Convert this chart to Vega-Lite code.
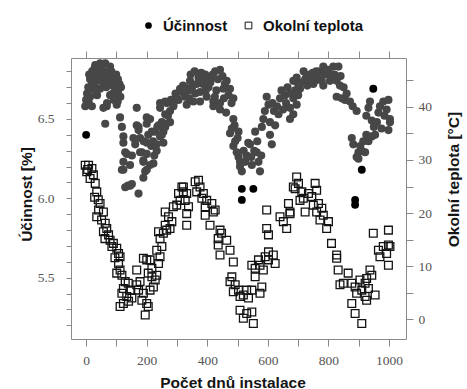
{
  "$schema": "https://vega.github.io/schema/vega-lite/v6.json",
  "width": 335,
  "height": 281,
  "autosize": {"type": "none"},
  "padding": {"left": 71, "top": 58, "right": 61, "bottom": 50},
  "background": "white",
  "config": {
    "view": {"stroke": "#8a8a8a", "strokeWidth": 1},
    "axis": {
      "grid": false,
      "domain": false,
      "tickColor": "#8a8a8a",
      "tickWidth": 1,
      "labelFont": "Liberation Serif",
      "labelFontSize": 13.5,
      "labelColor": "#555555",
      "titleFont": "Liberation Sans",
      "titleFontWeight": "bold",
      "titleFontSize": 15.5,
      "titleColor": "#151515"
    },
    "legend": {
      "labelFont": "Liberation Sans",
      "labelFontWeight": "bold",
      "labelFontSize": 15,
      "labelColor": "#111111",
      "labelOffset": 7,
      "symbolSize": 45,
      "symbolStrokeWidth": 1,
      "direction": "horizontal"
    }
  },
  "datasets": {
    "ucinnost": [
      {"den":30,"ucinnost":6.84},{"den":46,"ucinnost":6.85},{"den":63,"ucinnost":6.85},{"den":79,"ucinnost":6.83},{"den":20,"ucinnost":6.80},{"den":40,"ucinnost":6.81},{"den":59,"ucinnost":6.80},{"den":83,"ucinnost":6.80},{"den":99,"ucinnost":6.78},{"den":13,"ucinnost":6.75},{"den":33,"ucinnost":6.76},{"den":53,"ucinnost":6.75},{"den":73,"ucinnost":6.75},{"den":96,"ucinnost":6.73},{"den":7,"ucinnost":6.70},{"den":26,"ucinnost":6.71},{"den":46,"ucinnost":6.69},{"den":66,"ucinnost":6.70},{"den":86,"ucinnost":6.71},{"den":106,"ucinnost":6.68},{"den":13,"ucinnost":6.64},{"den":36,"ucinnost":6.65},{"den":79,"ucinnost":6.65},{"den":99,"ucinnost":6.63},{"den":69,"ucinnost":6.60},{"den":50,"ucinnost":6.82},{"den":70,"ucinnost":6.78},{"den":90,"ucinnost":6.76},{"den":25,"ucinnost":6.77},{"den":60,"ucinnost":6.72},{"den":3,"ucinnost":6.66},{"den":110,"ucinnost":6.72},{"den":16,"ucinnost":6.69},{"den":88,"ucinnost":6.66},{"den":104,"ucinnost":6.61},
      {"den":10,"ucinnost":6.78},{"den":28,"ucinnost":6.82},{"den":38,"ucinnost":6.79},{"den":45,"ucinnost":6.74},{"den":55,"ucinnost":6.78},{"den":65,"ucinnost":6.76},{"den":75,"ucinnost":6.72},{"den":85,"ucinnost":6.74},{"den":95,"ucinnost":6.70},{"den":105,"ucinnost":6.75},{"den":115,"ucinnost":6.70},{"den":20,"ucinnost":6.73},{"den":30,"ucinnost":6.68},{"den":8,"ucinnost":6.61},{"den":113,"ucinnost":6.64},{"den":92,"ucinnost":6.62},{"den":0,"ucinnost":6.62},
      {"den":-3,"ucinnost":6.58},{"den":19,"ucinnost":6.58},{"den":57,"ucinnost":6.57},{"den":63,"ucinnost":6.47},{"den":167,"ucinnost":6.57},{"den":68,"ucinnost":6.58},
      {"den":0,"ucinnost":6.40,"odlehly":true},
      {"den":101,"ucinnost":6.59},{"den":112,"ucinnost":6.51},{"den":118,"ucinnost":6.45},{"den":123,"ucinnost":6.39},{"den":129,"ucinnost":6.29},{"den":123,"ucinnost":6.23},{"den":118,"ucinnost":6.18},{"den":129,"ucinnost":6.07},{"den":145,"ucinnost":6.08},{"den":173,"ucinnost":6.03},{"den":123,"ucinnost":6.35},{"den":134,"ucinnost":6.28},{"den":123,"ucinnost":6.18},{"den":156,"ucinnost":6.38},{"den":167,"ucinnost":6.46},{"den":178,"ucinnost":6.29},{"den":189,"ucinnost":6.24},{"den":138,"ucinnost":6.08},{"den":151,"ucinnost":6.09},
      {"den":173,"ucinnost":6.45},{"den":178,"ucinnost":6.38},{"den":162,"ucinnost":6.34},{"den":184,"ucinnost":6.29},{"den":151,"ucinnost":6.27},{"den":145,"ucinnost":6.21},{"den":189,"ucinnost":6.23},{"den":195,"ucinnost":6.17},{"den":189,"ucinnost":6.13},{"den":211,"ucinnost":6.21},{"den":211,"ucinnost":6.50},{"den":200,"ucinnost":6.51},{"den":200,"ucinnost":6.47},{"den":217,"ucinnost":6.42},{"den":200,"ucinnost":6.35},{"den":200,"ucinnost":6.28},{"den":222,"ucinnost":6.22},{"den":200,"ucinnost":6.18},{"den":173,"ucinnost":6.43},
      {"den":205,"ucinnost":6.40},{"den":215,"ucinnost":6.33},{"den":225,"ucinnost":6.27},{"den":235,"ucinnost":6.45},{"den":250,"ucinnost":6.40},{"den":270,"ucinnost":6.52},{"den":280,"ucinnost":6.62},{"den":295,"ucinnost":6.66},{"den":305,"ucinnost":6.62},{"den":320,"ucinnost":6.71},{"den":190,"ucinnost":6.36},
      {"den":221,"ucinnost":6.36},{"den":228,"ucinnost":6.42},{"den":239,"ucinnost":6.46},{"den":250,"ucinnost":6.48},{"den":261,"ucinnost":6.53},{"den":266,"ucinnost":6.60},{"den":277,"ucinnost":6.55},{"den":288,"ucinnost":6.59},{"den":299,"ucinnost":6.63},{"den":316,"ucinnost":6.67},{"den":244,"ucinnost":6.39},{"den":255,"ucinnost":6.42},{"den":233,"ucinnost":6.34},{"den":277,"ucinnost":6.48},{"den":261,"ucinnost":6.45},{"den":244,"ucinnost":6.57},{"den":261,"ucinnost":6.61},{"den":310,"ucinnost":6.69},{"den":327,"ucinnost":6.70},{"den":244,"ucinnost":6.60},{"den":264,"ucinnost":6.47},{"den":255,"ucinnost":6.35},{"den":233,"ucinnost":6.30},{"den":288,"ucinnost":6.58},
      {"den":327,"ucinnost":6.64},{"den":343,"ucinnost":6.74},{"den":354,"ucinnost":6.61},{"den":371,"ucinnost":6.76},{"den":376,"ucinnost":6.67},{"den":393,"ucinnost":6.78},{"den":404,"ucinnost":6.70},{"den":415,"ucinnost":6.76},{"den":426,"ucinnost":6.80},{"den":442,"ucinnost":6.81},{"den":420,"ucinnost":6.61},{"den":442,"ucinnost":6.60},{"den":453,"ucinnost":6.69},{"den":464,"ucinnost":6.74},{"den":470,"ucinnost":6.65},{"den":486,"ucinnost":6.63},{"den":332,"ucinnost":6.59},{"den":360,"ucinnost":6.66},{"den":376,"ucinnost":6.61},{"den":420,"ucinnost":6.58},{"den":442,"ucinnost":6.56},{"den":462,"ucinnost":6.54},{"den":350,"ucinnost":6.70},{"den":385,"ucinnost":6.72},{"den":410,"ucinnost":6.73},{"den":435,"ucinnost":6.75},{"den":398,"ucinnost":6.64},{"den":365,"ucinnost":6.72},{"den":338,"ucinnost":6.68},{"den":430,"ucinnost":6.68},
      {"den":345,"ucinnost":6.78},{"den":358,"ucinnost":6.80},{"den":380,"ucinnost":6.79},{"den":392,"ucinnost":6.75},{"den":403,"ucinnost":6.76},{"den":418,"ucinnost":6.78},{"den":450,"ucinnost":6.77},{"den":458,"ucinnost":6.72},{"den":475,"ucinnost":6.69},{"den":480,"ucinnost":6.60},{"den":340,"ucinnost":6.63},{"den":395,"ucinnost":6.68},{"den":425,"ucinnost":6.64},{"den":455,"ucinnost":6.63},
      {"den":475,"ucinnost":6.41},{"den":486,"ucinnost":6.33},{"den":503,"ucinnost":6.26},{"den":508,"ucinnost":6.20},{"den":486,"ucinnost":6.50},{"den":481,"ucinnost":6.44},{"den":503,"ucinnost":6.42},{"den":492,"ucinnost":6.36},{"den":497,"ucinnost":6.29},{"den":508,"ucinnost":6.23},{"den":514,"ucinnost":6.17},{"den":530,"ucinnost":6.27},{"den":541,"ucinnost":6.34},{"den":547,"ucinnost":6.21},{"den":563,"ucinnost":6.29},{"den":574,"ucinnost":6.17},{"den":558,"ucinnost":6.42},{"den":569,"ucinnost":6.23},{"den":525,"ucinnost":6.23},
      {"den":490,"ucinnost":6.46},{"den":500,"ucinnost":6.38},{"den":520,"ucinnost":6.30},{"den":535,"ucinnost":6.35},{"den":545,"ucinnost":6.26},{"den":555,"ucinnost":6.30},{"den":565,"ucinnost":6.36},{"den":578,"ucinnost":6.27},
      {"den":514,"ucinnost":6.06,"odlehly":true},{"den":552,"ucinnost":6.06,"odlehly":true},{"den":514,"ucinnost":5.99,"odlehly":true},
      {"den":596,"ucinnost":6.64},{"den":602,"ucinnost":6.59},{"den":585,"ucinnost":6.50},{"den":580,"ucinnost":6.45},{"den":607,"ucinnost":6.48},{"den":624,"ucinnost":6.46},{"den":607,"ucinnost":6.40},{"den":613,"ucinnost":6.34},{"den":635,"ucinnost":6.53},{"den":640,"ucinnost":6.63},{"den":657,"ucinnost":6.65},{"den":673,"ucinnost":6.57},{"den":684,"ucinnost":6.74},{"den":684,"ucinnost":6.63},{"den":695,"ucinnost":6.59},{"den":684,"ucinnost":6.53},{"den":673,"ucinnost":6.50},{"den":660,"ucinnost":6.60},{"den":620,"ucinnost":6.55},
      {"den":590,"ucinnost":6.55},{"den":615,"ucinnost":6.60},{"den":630,"ucinnost":6.58},{"den":645,"ucinnost":6.68},{"den":650,"ucinnost":6.56},{"den":665,"ucinnost":6.70},{"den":675,"ucinnost":6.66},{"den":690,"ucinnost":6.68},
      {"den":695,"ucinnost":6.76},{"den":706,"ucinnost":6.69},{"den":723,"ucinnost":6.75},{"den":739,"ucinnost":6.78},{"den":756,"ucinnost":6.74},{"den":772,"ucinnost":6.80},{"den":783,"ucinnost":6.83},{"den":800,"ucinnost":6.81},{"den":816,"ucinnost":6.83},{"den":833,"ucinnost":6.83},{"den":783,"ucinnost":6.71},{"den":805,"ucinnost":6.74},{"den":827,"ucinnost":6.74},{"den":838,"ucinnost":6.71},{"den":712,"ucinnost":6.73},{"den":730,"ucinnost":6.71},{"den":745,"ucinnost":6.76},{"den":765,"ucinnost":6.77},{"den":790,"ucinnost":6.78},{"den":810,"ucinnost":6.77},{"den":700,"ucinnost":6.72},{"den":750,"ucinnost":6.72},{"den":760,"ucinnost":6.80},
      {"den":700,"ucinnost":6.65},{"den":718,"ucinnost":6.80},{"den":728,"ucinnost":6.77},{"den":735,"ucinnost":6.74},{"den":748,"ucinnost":6.79},{"den":770,"ucinnost":6.75},{"den":778,"ucinnost":6.74},{"den":795,"ucinnost":6.81},{"den":820,"ucinnost":6.78},{"den":840,"ucinnost":6.77},{"den":850,"ucinnost":6.70},{"den":860,"ucinnost":6.66},
      {"den":827,"ucinnost":6.64},{"den":844,"ucinnost":6.63},{"den":855,"ucinnost":6.62},{"den":871,"ucinnost":6.61},{"den":893,"ucinnost":6.55},{"den":932,"ucinnost":6.57},{"den":937,"ucinnost":6.61},{"den":943,"ucinnost":6.49},{"den":965,"ucinnost":6.54},{"den":970,"ucinnost":6.58},{"den":981,"ucinnost":6.61},{"den":998,"ucinnost":6.62},{"den":1003,"ucinnost":6.50},{"den":998,"ucinnost":6.43},{"den":992,"ucinnost":6.56},{"den":1003,"ucinnost":6.48},
      {"den":880,"ucinnost":6.58},{"den":925,"ucinnost":6.52},{"den":950,"ucinnost":6.45},{"den":960,"ucinnost":6.48},{"den":985,"ucinnost":6.52},{"den":975,"ucinnost":6.44},{"den":905,"ucinnost":6.33},{"den":925,"ucinnost":6.40},
      {"den":877,"ucinnost":6.38},{"den":882,"ucinnost":6.34},{"den":899,"ucinnost":6.29},{"den":893,"ucinnost":6.26},{"den":921,"ucinnost":6.29},{"den":932,"ucinnost":6.36},{"den":943,"ucinnost":6.39},{"den":954,"ucinnost":6.40},{"den":899,"ucinnost":6.25},{"den":915,"ucinnost":6.36},{"den":910,"ucinnost":6.30},
      {"den":948,"ucinnost":6.69,"odlehly":true},{"den":910,"ucinnost":6.18,"odlehly":true},{"den":888,"ucinnost":5.99,"odlehly":true},{"den":888,"ucinnost":5.96,"odlehly":true}
    ],
    "teplota": [
      {"den":-3,"teplota":29.0},{"den":8,"teplota":29.0},{"den":19,"teplota":28.4},{"den":2,"teplota":27.8},{"den":24,"teplota":27.2},{"den":13,"teplota":26.5},{"den":30,"teplota":25.6},{"den":35,"teplota":24.0},{"den":46,"teplota":21.8},{"den":41,"teplota":20.6},{"den":57,"teplota":20.2},{"den":35,"teplota":19.3},{"den":51,"teplota":18.7},{"den":63,"teplota":18.1},{"den":68,"teplota":17.1},{"den":57,"teplota":16.5},{"den":74,"teplota":15.9},{"den":79,"teplota":14.9},{"den":90,"teplota":14.3},{"den":85,"teplota":13.7},{"den":101,"teplota":13.4},{"den":107,"teplota":12.4},{"den":112,"teplota":11.8},{"den":107,"teplota":10.5},{"den":112,"teplota":9.3},{"den":101,"teplota":8.7},{"den":118,"teplota":8.3},{"den":129,"teplota":7.1},{"den":139,"teplota":6.8},{"den":123,"teplota":5.8},{"den":145,"teplota":5.5},{"den":118,"teplota":4.9},{"den":134,"teplota":4.3},{"den":151,"teplota":4.0},{"den":123,"teplota":3.0},{"den":112,"teplota":2.4},
      {"den":5,"teplota":28.2},{"den":28,"teplota":23.0},{"den":40,"teplota":22.5},{"den":62,"teplota":15.2},{"den":95,"teplota":11.6},{"den":140,"teplota":3.4},
      {"den":167,"teplota":6.5},{"den":173,"teplota":5.5},{"den":167,"teplota":9.3},{"den":178,"teplota":7.1},{"den":189,"teplota":4.9},{"den":184,"teplota":3.6},{"den":200,"teplota":3.0},{"den":195,"teplota":0.8},{"den":205,"teplota":2.4},{"den":211,"teplota":5.5},{"den":222,"teplota":6.1},{"den":228,"teplota":7.4},{"den":217,"teplota":8.0},{"den":233,"teplota":8.3},{"den":205,"teplota":8.7},{"den":217,"teplota":9.6},{"den":200,"teplota":11.2},{"den":189,"teplota":11.5},{"den":211,"teplota":11.2},{"den":239,"teplota":10.5},{"den":244,"teplota":11.8},{"den":233,"teplota":13.0},{"den":250,"teplota":13.7},{"den":244,"teplota":15.2},{"den":255,"teplota":16.2},{"den":239,"teplota":16.5},{"den":266,"teplota":16.8},{"den":261,"teplota":17.7},{"den":277,"teplota":17.1},{"den":283,"teplota":18.4},{"den":261,"teplota":20.2},{"den":272,"teplota":19.3},{"den":288,"teplota":21.2},{"den":299,"teplota":21.5},{"den":310,"teplota":22.4},{"den":316,"teplota":24.9},{"den":321,"teplota":24.0},{"den":305,"teplota":23.7},
      {"den":321,"teplota":24.9},{"den":332,"teplota":23.7},{"den":327,"teplota":22.4},{"den":338,"teplota":21.2},{"den":332,"teplota":19.9},{"den":332,"teplota":17.7},{"den":360,"teplota":25.9},{"den":371,"teplota":26.2},{"den":376,"teplota":24.9},{"den":365,"teplota":24.0},{"den":387,"teplota":23.7},{"den":382,"teplota":22.8},{"den":398,"teplota":22.4},{"den":393,"teplota":21.2},{"den":415,"teplota":21.8},{"den":420,"teplota":20.2},{"den":426,"teplota":20.6},{"den":393,"teplota":19.6},{"den":409,"teplota":17.7},{"den":442,"teplota":16.8},{"den":447,"teplota":16.2},{"den":436,"teplota":15.2},{"den":464,"teplota":14.9},{"den":436,"teplota":14.0},{"den":475,"teplota":13.0},{"den":442,"teplota":12.1},{"den":486,"teplota":10.8},{"den":481,"teplota":8.0},{"den":475,"teplota":7.1},{"den":492,"teplota":6.5},{"den":486,"teplota":5.2},{"den":503,"teplota":5.5},{"den":508,"teplota":4.3},{"den":519,"teplota":4.6},{"den":530,"teplota":5.5},{"den":536,"teplota":4.0},{"den":547,"teplota":5.5},{"den":508,"teplota":1.7},{"den":530,"teplota":1.1},{"den":519,"teplota":0.2},{"den":547,"teplota":1.4},{"den":552,"teplota":-0.8},{"den":574,"teplota":4.9},{"den":580,"teplota":6.1},{"den":558,"teplota":8.0},{"den":558,"teplota":9.6},{"den":547,"teplota":10.2},{"den":574,"teplota":10.2},{"den":569,"teplota":11.2},{"den":585,"teplota":9.3},{"den":602,"teplota":11.2},{"den":602,"teplota":12.7},{"den":618,"teplota":12.1},{"den":624,"teplota":10.5},{"den":591,"teplota":11.8},{"den":596,"teplota":20.6},{"den":596,"teplota":17.1},{"den":602,"teplota":15.9},{"den":640,"teplota":19.3},{"den":651,"teplota":18.4},{"den":662,"teplota":17.1},{"den":668,"teplota":21.8},{"den":673,"teplota":19.9},{"den":684,"teplota":24.9},
      {"den":673,"teplota":20.2},{"den":695,"teplota":26.8},{"den":701,"teplota":25.6},{"den":690,"teplota":24.6},{"den":712,"teplota":24.0},{"den":717,"teplota":22.8},{"den":706,"teplota":22.4},{"den":723,"teplota":20.2},{"den":734,"teplota":23.7},{"den":745,"teplota":23.1},{"den":756,"teplota":25.6},{"den":761,"teplota":24.3},{"den":750,"teplota":21.5},{"den":767,"teplota":21.8},{"den":761,"teplota":20.2},{"den":778,"teplota":20.9},{"den":783,"teplota":19.6},{"den":772,"teplota":18.7},{"den":800,"teplota":18.4},{"den":794,"teplota":17.1},{"den":810,"teplota":14.3},{"den":827,"teplota":12.1},{"den":827,"teplota":11.5},{"den":832,"teplota":9.3},{"den":865,"teplota":8.7},{"den":849,"teplota":6.8},{"den":838,"teplota":6.5},{"den":877,"teplota":6.8},{"den":904,"teplota":7.4},{"den":888,"teplota":6.1},{"den":921,"teplota":6.8},{"den":937,"teplota":9.3},{"den":943,"teplota":8.3},{"den":926,"teplota":7.7},{"den":910,"teplota":5.5},{"den":932,"teplota":5.8},{"den":954,"teplota":4.6},{"den":921,"teplota":4.3},{"den":877,"teplota":3.0},{"den":888,"teplota":1.1},{"den":910,"teplota":-0.8},{"den":893,"teplota":4.9},{"den":926,"teplota":3.6},{"den":948,"teplota":16.2},{"den":998,"teplota":16.8},{"den":981,"teplota":13.7},{"den":998,"teplota":14.0},{"den":992,"teplota":12.4},{"den":970,"teplota":11.8},{"den":998,"teplota":10.2},{"den":965,"teplota":13.0},{"den":1003,"teplota":13.7}
    ]
  },
  "layer": [
    {
      "data": {"name": "ucinnost"},
      "transform": [{"filter": "datum.odlehly !== true"}],
      "mark": {"type": "point", "shape": "circle", "filled": true, "size": 66, "opacity": 1, "fill": "#474747"},
      "encoding": {
        "x": {
          "field": "den", "type": "quantitative",
          "scale": {"domain": [-50, 1056], "nice": false, "zero": false},
          "axis": {
            "orient": "bottom",
            "values": [0, 100, 200, 300, 400, 500, 600, 700, 800, 900, 1000],
            "labelExpr": "datum.value % 200 === 0 ? datum.label : ''",
            "format": "d",
            "tickSize": 7,
            "labelPadding": 7,
            "title": "Počet dnů instalace",
            "titleX": 161.5,
            "titleY": 48,
            "titleAlign": "center",
            "titleBaseline": "alphabetic"
          }
        },
        "y": {
          "field": "ucinnost", "type": "quantitative",
          "scale": {"domain": [5.114, 6.884], "nice": false, "zero": false},
          "axis": {
            "orient": "left",
            "values": [5.2, 5.3, 5.4, 5.5, 5.6, 5.7, 5.8, 5.9, 6.0, 6.1, 6.2, 6.3, 6.4, 6.5, 6.6, 6.7, 6.8],
            "labelExpr": "round(datum.value * 10) % 5 === 0 ? format(datum.value, '.1f') : ''",
            "tickSize": 5,
            "labelPadding": 12,
            "title": "Účinnost [%]",
            "titleAngle": 270,
            "titleX": -40,
            "titleY": 136,
            "titleAlign": "center",
            "titleBaseline": "alphabetic"
          }
        }
      }
    },
    {
      "data": {"name": "ucinnost"},
      "transform": [{"filter": "datum.odlehly === true"}],
      "mark": {"type": "point", "shape": "circle", "filled": true, "size": 62, "opacity": 1, "fill": "#000000"},
      "encoding": {
        "x": {"field": "den", "type": "quantitative", "axis": null},
        "y": {
          "field": "ucinnost", "type": "quantitative",
          "scale": {"domain": [5.114, 6.884], "nice": false, "zero": false},
          "axis": null
        },
        "shape": {
          "datum": "Účinnost", "type": "nominal",
          "scale": {"domain": ["Účinnost"], "range": ["circle"]},
          "legend": {
            "orient": "none",
            "legendX": 70,
            "legendY": -40,
            "title": null
          }
        }
      }
    },
    {
      "data": {"name": "teplota"},
      "mark": {"type": "point", "shape": "square", "filled": false, "size": 60, "strokeWidth": 1.3, "opacity": 1},
      "encoding": {
        "x": {
          "field": "den", "type": "quantitative",
          "axis": {
            "orient": "top",
            "values": [0, 100, 200, 300, 400, 500, 600, 700, 800, 900, 1000],
            "labels": false,
            "tickSize": 7,
            "title": null
          }
        },
        "y": {
          "field": "teplota", "type": "quantitative",
          "scale": {"domain": [-3.7, 49.2], "nice": false, "zero": false},
          "axis": {
            "orient": "right",
            "values": [0, 5, 10, 15, 20, 25, 30, 35, 40, 45],
            "labelExpr": "datum.value % 10 === 0 ? datum.label : ''",
            "tickSize": 7,
            "labelPadding": 5,
            "title": "Okolní teplota [°C]",
            "titleAngle": 270,
            "titleX": 52,
            "titleY": 121,
            "titleAlign": "center",
            "titleBaseline": "alphabetic"
          }
        },
        "stroke": {
          "datum": "Okolní teplota", "type": "nominal",
          "scale": {"domain": ["Okolní teplota"], "range": ["#141414"]},
          "legend": {
            "orient": "none",
            "legendX": 170,
            "legendY": -40,
            "title": null,
            "symbolType": "square",
            "symbolStrokeWidth": 1
          }
        }
      }
    }
  ],
  "resolve": {"scale": {"y": "independent"}, "axis": {"x": "independent"}}
}
